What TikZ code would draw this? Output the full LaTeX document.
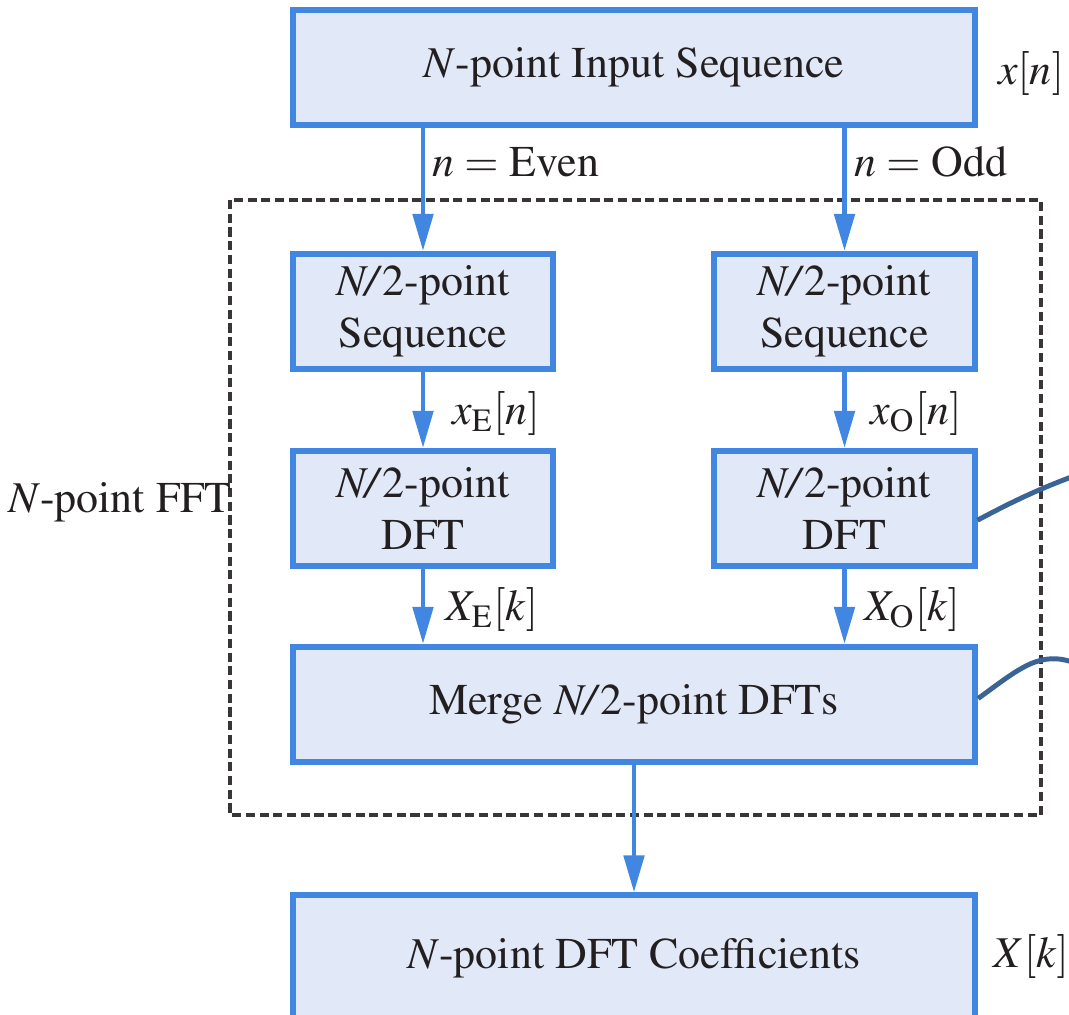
\documentclass[tikz,border=0pt]{standalone}
\usepackage[T1]{fontenc}
\usepackage{mathptmx}
\usetikzlibrary{arrows.meta}

\definecolor{boxline}{HTML}{4186E0}
\definecolor{boxfill}{HTML}{E1E8F8}
\definecolor{wire}{HTML}{3A6496}
\definecolor{ink}{HTML}{231F20}
\newcommand{\sym}[1]{\textit{#1}}

\begin{document}
\begin{tikzpicture}[x=0.01cm, y=-0.01cm, >={Triangle[length=3.7mm, width=2mm]},
    font=\fontsize{12.5}{14.8}\selectfont, text=ink,
    block/.style={draw=boxline, fill=boxfill, line width=1.7pt, align=center, inner sep=0pt},
    wide/.style={block, minimum width=6.82cm, minimum height=1.15cm},
    half/.style={block, minimum width=2.6cm, minimum height=1.15cm},
    flow/.style={->, draw=boxline, line width=1.4pt},
    lead/.style={draw=wire, line width=1.4pt},
    frame/.style={draw=ink!90, line width=0.9pt, dash pattern=on 2.6pt off 1.3pt}]
  \useasboundingbox (0,0) rectangle (1069,1015);

  % FFT frame
  \coordinate (fftTL) at (230,200);
  \coordinate (fftBR) at (1041,815);
  \draw[frame] (fftTL) rectangle (fftBR);
  \node (fftlabel) at (120,502) {$N$-point FFT};

  % Blocks
  \node[wide] (input) at (634,67.5) {$N$-point Input Sequence};
  \node[half] (seqE) at (423,311.5) {\sym{N/}2-point\\Sequence};
  \node[half] (seqO) at (844.5,311.5) {\sym{N/}2-point\\Sequence};
  \node[half] (dftE) at (423,508.5) {\sym{N/}2-point\\DFT};
  \node[half] (dftO) at (844.5,508.5) {\sym{N/}2-point\\DFT};
  \node[wide] (merge) at (634,704.5) {Merge \sym{N/}2-point DFTs};
  \node[wide, minimum height=1.25cm] (coeffs) at (634,958) {$N$-point DFT Coefficients};

  % Arrows
  \draw[flow] (seqE |- input.south) -- (seqE);
  \draw[flow] (seqO |- input.south) -- (seqO);
  \draw[flow] (seqE) -- (dftE);
  \draw[flow] (seqO) -- (dftO);
  \draw[flow] (dftE) -- (dftE |- merge.north);
  \draw[flow] (dftO) -- (dftO |- merge.north);
  \draw[flow] (merge) -- (coeffs);

  % Signal labels
  \node (lblEven) at (516,162) {$n =$ Even};
  \node (lblOdd) at (931,162) {$n =$ Odd};
  \node (xn) at (1031,74) {$x[n]$};
  \node (xEn) at (496,414) {$x_{\mathrm{E}}[n]$};
  \node (xOn) at (916,414) {$x_{\mathrm{O}}[n]$};
  \node (XEk) at (492,610) {$X_{\mathrm{E}}[k]$};
  \node (XOk) at (912,610) {$X_{\mathrm{O}}[k]$};
  \node (Xk) at (1031,957) {$X[k]$};

  % Leaders to the right
  \coordinate (endO) at (1100,467);
  \coordinate (endM) at (1075,663);
  \draw[lead] (dftO.-5) .. controls (1010,503) and (1045,485) .. (endO);
  \draw[lead] (merge.1.5) .. controls (1020,668) and (1040,650) .. (endM);
\end{tikzpicture}
\end{document}
